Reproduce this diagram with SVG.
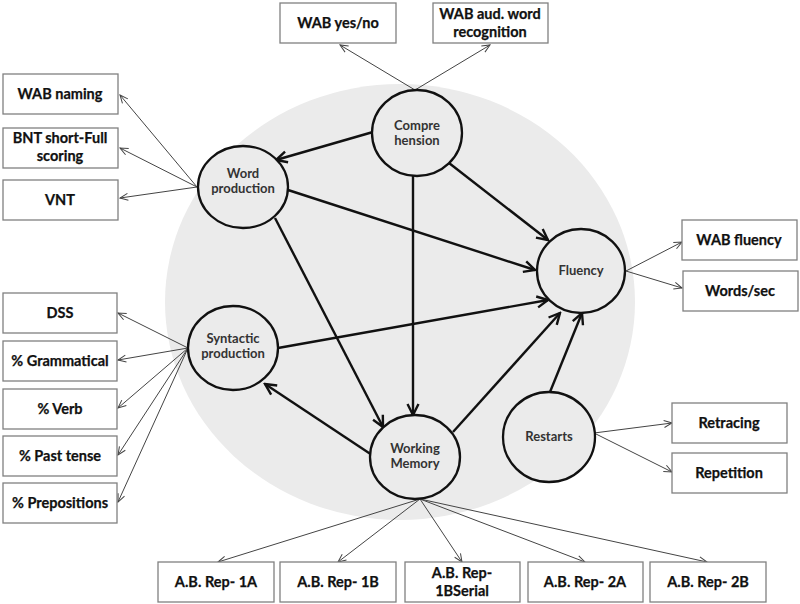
<svg xmlns="http://www.w3.org/2000/svg" width="800" height="604" viewBox="0 0 800 604">
<defs>
<style>
.box rect{fill:#fff;stroke:#808080;stroke-width:1.3}
.box text{font-family:Lato,"Liberation Sans",sans-serif;font-weight:bold;font-size:14.5px;fill:#111;stroke:#111;stroke-width:0.25;text-anchor:middle}
.node ellipse{fill:#ebebeb;stroke:#111;stroke-width:2.3}
.node text{font-family:Lato,"Liberation Sans",sans-serif;font-weight:bold;font-size:13px;fill:#333;text-anchor:middle}
.thick{stroke:#111;stroke-width:2.4;fill:none;marker-end:url(#ah)}
.thin{stroke:#444;stroke-width:1;fill:none;marker-end:url(#at)}
</style>
<marker id="ah" markerUnits="userSpaceOnUse" viewBox="0 0 14 14" markerWidth="14" markerHeight="14" refX="12" refY="7" orient="auto"><path d="M1,1.5 L12,7 L1,12.5" fill="none" stroke="#111" stroke-width="2.4"/></marker>
<marker id="at" markerUnits="userSpaceOnUse" viewBox="0 0 10 10" markerWidth="10" markerHeight="10" refX="9" refY="5" orient="auto"><path d="M1,1.5 L9,5 L1,8.5" fill="none" stroke="#444" stroke-width="1"/></marker>
</defs>
<rect width="800" height="604" fill="#fff"/>
<ellipse cx="400" cy="302" rx="235" ry="218" fill="#ebebeb"/>
<g id="connectors">
<path class="thick" d="M373,132 L276,160"/>
<path class="thick" d="M449,163 L548,240"/>
<path class="thick" d="M413,176 L413,415"/>
<path class="thick" d="M288,190 L535,270"/>
<path class="thick" d="M275,218 L383,427"/>
<path class="thick" d="M278,348 L548,300"/>
<path class="thick" d="M372,455 L265,384"/>
<path class="thick" d="M453,432 L560,313"/>
<path class="thick" d="M550,392 L582,313"/>
<path class="thin" d="M415,90 L340,45"/>
<path class="thin" d="M415,90 L490,45"/>
<path class="thin" d="M197,187 L120,95"/>
<path class="thin" d="M197,187 L120,148"/>
<path class="thin" d="M197,187 L120,198"/>
<path class="thin" d="M188,348 L118,313"/>
<path class="thin" d="M188,348 L118,360"/>
<path class="thin" d="M188,348 L118,408"/>
<path class="thin" d="M188,348 L118,455"/>
<path class="thin" d="M188,348 L118,502"/>
<path class="thin" d="M626,271 L682,242"/>
<path class="thin" d="M626,271 L682,288"/>
<path class="thin" d="M594,433 L672,423"/>
<path class="thin" d="M594,433 L672,472"/>
<path class="thin" d="M420,499 L218,562"/>
<path class="thin" d="M420,499 L338,562"/>
<path class="thin" d="M420,499 L462,562"/>
<path class="thin" d="M420,499 L585,562"/>
<path class="thin" d="M420,499 L707,562"/>
</g>
<g id="comprehension" class="node"><ellipse cx="417" cy="133" rx="45" ry="43"/><text x="417" y="130">Compre</text><text x="417" y="145">hension</text></g>
<g id="word-production" class="node"><ellipse cx="243" cy="187" rx="45" ry="41"/><text x="243" y="178">Word</text><text x="243" y="193">production</text></g>
<g id="fluency" class="node"><ellipse cx="581" cy="271" rx="44" ry="42"/><text x="581" y="275">Fluency</text></g>
<g id="syntactic-production" class="node"><ellipse cx="233" cy="348" rx="45" ry="42"/><text x="233" y="343">Syntactic</text><text x="233" y="358">production</text></g>
<g id="working-memory" class="node"><ellipse cx="415" cy="457" rx="45" ry="42"/><text x="415" y="453">Working</text><text x="415" y="468">Memory</text></g>
<g id="restarts" class="node"><ellipse cx="549" cy="437" rx="46" ry="45"/><text x="549" y="441">Restarts</text></g>
<g id="wab-yes-no" class="box"><rect x="280" y="3" width="116" height="40"/><text x="338" y="28">WAB yes/no</text></g>
<g id="wab-aud" class="box"><rect x="433" y="3" width="115" height="40"/><text x="490" y="19">WAB aud. word</text><text x="490" y="37">recognition</text></g>
<g id="wab-naming" class="box"><rect x="3" y="74" width="115" height="40"/><text x="60" y="99">WAB naming</text></g>
<g id="bnt" class="box"><rect x="3" y="128" width="115" height="40"/><text x="60" y="143">BNT short-Full</text><text x="60" y="161">scoring</text></g>
<g id="vnt" class="box"><rect x="3" y="180" width="115" height="40"/><text x="60" y="205">VNT</text></g>
<g id="dss" class="box"><rect x="3" y="293" width="114" height="40"/><text x="60" y="318">DSS</text></g>
<g id="grammatical" class="box"><rect x="3" y="341" width="114" height="40"/><text x="60" y="366">% Grammatical</text></g>
<g id="verb" class="box"><rect x="3" y="389" width="114" height="40"/><text x="60" y="414">% Verb</text></g>
<g id="past-tense" class="box"><rect x="3" y="436" width="114" height="40"/><text x="60" y="461">% Past tense</text></g>
<g id="prepositions" class="box"><rect x="3" y="483" width="114" height="40"/><text x="60" y="508">% Prepositions</text></g>
<g id="wab-fluency" class="box"><rect x="682" y="220" width="115" height="40"/><text x="739" y="245">WAB fluency</text></g>
<g id="words-sec" class="box"><rect x="683" y="271" width="115" height="40"/><text x="740" y="296">Words/sec</text></g>
<g id="retracing" class="box"><rect x="672" y="403" width="115" height="40"/><text x="729" y="428">Retracing</text></g>
<g id="repetition" class="box"><rect x="672" y="453" width="115" height="40"/><text x="729" y="478">Repetition</text></g>
<g id="rep-1a" class="box"><rect x="158" y="562" width="116" height="40"/><text x="216" y="587">A.B. Rep- 1A</text></g>
<g id="rep-1b" class="box"><rect x="280" y="562" width="116" height="40"/><text x="338" y="587">A.B. Rep- 1B</text></g>
<g id="rep-1bserial" class="box"><rect x="405" y="562" width="115" height="40"/><text x="462" y="578">A.B. Rep-</text><text x="462" y="596">1BSerial</text></g>
<g id="rep-2a" class="box"><rect x="528" y="562" width="115" height="40"/><text x="585" y="587">A.B. Rep- 2A</text></g>
<g id="rep-2b" class="box"><rect x="650" y="562" width="116" height="40"/><text x="708" y="587">A.B. Rep- 2B</text></g>
</svg>
